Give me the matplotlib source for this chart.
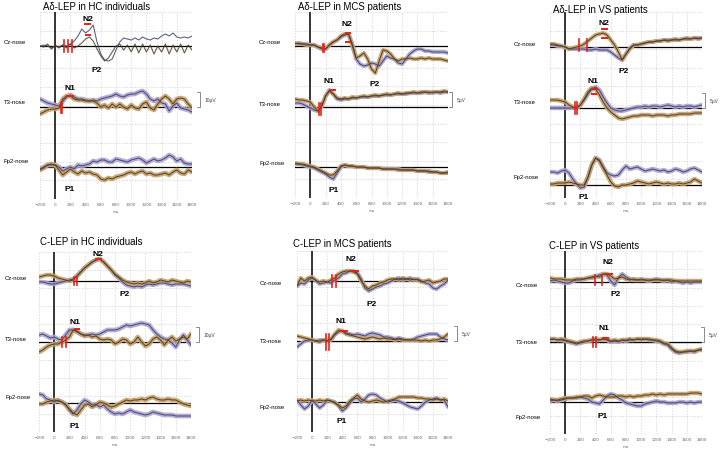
import matplotlib
matplotlib.use("Agg")
import matplotlib.pyplot as plt
import numpy as np

# Figure size in pixels (dpi 100)
W, H = 727, 452

# Sample times (ms) of every trace
TIME_MS = list(range(-200, 1801, 50))

# ---------------------------------------------------------------------
#  Traces: amplitude above the channel baseline,
#  one value every 50 ms from -200 to 1800 ms (scale bar = 15 units).
#  "blue" = lavender trace, "brown" = tan trace.
# ---------------------------------------------------------------------
# A-delta LEP, HC individuals
AD_HC_CZ_BLUE = [0, 1, 0, -2, 0, -1, 1, 0, 2, 5, 10,
                 17, 13, 16, 21, 4, -8, -14, -15, -13, -4,
                 4, 8, 7, 6, 8, 6, 9, 7, 6, 8,
                 7, 10, 12, 10, 13, 9, 8, 9, 8, 10]
AD_HC_CZ_BROWN = [0, -1, 2, -3, 1, -2, 1, -2, 2, -2, 0,
                  3, 7, 9, 5, -3, -10, -15, -12, -6, 0,
                  2, -4, 1, -6, 2, -7, 2, -6, 1, -8,
                  0, -6, 2, -8, 1, -6, 2, -7, 1, -4]
AD_HC_T3_BLUE = [8, 6, 4, 3, 2, 1, 6, 10, 12, 10, 8,
                 8, 7, 6, 7, 6, 8, 9, 10, 11, 13,
                 11, 10, 12, 13, 13, 15, 16, 13, 8, 6,
                 8, 4, 3, -4, 1, 4, -1, -2, -3, -5]
AD_HC_T3_BROWN = [-7, -5, -3, -2, -2, -1, 8, 11, 11, 8, 7,
                  7, 6, 6, 6, 4, 0, 2, -1, 3, 0,
                  3, 0, -2, 2, -1, -2, 3, 5, -1, -3,
                  3, 8, 11, 8, 3, 8, 9, 8, 3, -1]
AD_HC_FP2_BLUE = [-2, 0, 2, 2, 2, 0, -4, -2, 0, -2, 2,
                  1, 2, 3, 6, 5, 7, 7, 5, 5, 8,
                  7, 6, 5, 7, 8, 9, 7, 4, 6, 8,
                  6, 7, 9, 12, 10, 6, 8, 4, 3, 3]
AD_HC_FP2_BROWN = [-3, -1, 2, 3, 2, -3, -8, -5, -2, -5, -7,
                   -4, -6, -5, -7, -8, -12, -13, -11, -12, -10,
                   -9, -8, -6, -5, -7, -5, -4, -7, -6, -8,
                   -8, -7, -6, -8, -5, -3, -6, -7, -3, -5]

# A-delta LEP, MCS patients
AD_MCS_CZ_BLUE = [2, 3, 2, 2, 1, 1, -1, -3, -3, 1, 4,
                  6, 9, 11, 12, 2, -13, -18, -20, -19, -17,
                  -18, -20, -15, -10, -12, -13, -17, -18, -13, -8,
                  -5, -3, -3, -5, -5, -6, -6, -6, -6, -7]
AD_MCS_CZ_BROWN = [3, 2, 2, 1, 1, 1, -1, -2, -3, 1, 4,
                   6, 10, 12, 12, 0, -12, -10, -7, -13, -23,
                   -27, -15, -4, -5, -8, -13, -15, -13, -13, -12,
                   -13, -13, -12, -13, -12, -13, -13, -13, -14, -15]
AD_MCS_T3_BLUE = [4, 4, 3, 1, -1, -3, -4, 1, 11, 17, 13,
                  8, 7, 8, 8, 9, 9, 10, 10, 10, 11,
                  11, 11, 12, 12, 12, 13, 13, 13, 13, 14,
                  14, 14, 14, 15, 15, 14, 15, 14, 15, 15]
AD_MCS_T3_BROWN = [8, 7, 7, 6, 5, 0, -4, 1, 11, 16, 13,
                   9, 8, 9, 8, 10, 9, 10, 11, 10, 11,
                   12, 11, 12, 13, 12, 13, 14, 13, 14, 14,
                   15, 14, 15, 15, 14, 15, 15, 15, 16, 15]
AD_MCS_FP2_BLUE = [3, 3, 2, 1, 0, -1, -3, -5, -7, -10, -12,
                   -6, 0, 2, 1, 1, 0, 0, 0, -1, -1,
                   -1, -1, -2, -2, -2, -2, -2, -3, -3, -3,
                   -3, -4, -4, -4, -4, -5, -5, -6, -6, -5]
AD_MCS_FP2_BROWN = [4, 3, 3, 2, 1, 0, -2, -4, -6, -8, -8,
                    -4, 1, 2, 1, 1, 0, 0, 0, -1, -1,
                    -1, -1, -2, -2, -2, -2, -3, -3, -3, -3,
                    -3, -4, -4, -4, -5, -5, -5, -6, -6, -6]

# A-delta LEP, VS patients
AD_VS_CZ_BLUE = [2, 2, 1, 1, 0, -2, -2, -2, -2, -2, -3,
                 -3, -2, -3, -3, -3, -5, -8, -11, -13, -7,
                 -1, 2, 2, 3, 4, 5, 5, 6, 6, 7,
                 7, 7, 8, 7, 8, 9, 8, 9, 9, 9]
AD_VS_CZ_BROWN = [3, 3, 2, 1, 0, -2, -1, 0, 1, 3, 6,
                  9, 12, 13, 14, 12, 7, 2, -5, -13, -7,
                  -2, 2, 2, 3, 4, 5, 5, 6, 6, 7,
                  6, 7, 7, 7, 8, 8, 8, 9, 8, 9]
AD_VS_T3_BLUE = [0, 0, 0, 0, 0, 0, 0, 0, 3, 8, 14,
                 19, 21, 18, 11, 5, 0, -2, -3, -3, -2,
                 -1, 0, 1, 1, 2, 1, 2, 2, 1, 2,
                 3, 2, 1, 2, 1, 2, 2, 1, 2, 3]
AD_VS_T3_BROWN = [8, 8, 8, 7, 6, 3, 1, 0, 3, 9, 16,
                  20, 19, 13, 6, 0, -4, -7, -10, -11, -10,
                  -9, -8, -8, -7, -7, -7, -8, -7, -7, -7,
                  -8, -7, -7, -6, -6, -6, -6, -5, -5, -5]
AD_VS_FP2_BLUE = [13, 13, 12, 14, 15, 12, 6, 1, -3, -2, 8,
                  20, 27, 25, 18, 12, 10, 9, 10, 15, 19,
                  16, 17, 18, 16, 14, 15, 16, 15, 14, 15,
                  13, 14, 16, 15, 13, 14, 16, 17, 15, 13]
AD_VS_FP2_BROWN = [1, 1, 2, 2, 2, 3, 2, 1, 0, 0, 8,
                   20, 27, 24, 17, 10, 3, -1, -2, 0, 0,
                   1, 2, 4, 3, 2, 1, 2, 3, 2, 1,
                   2, 1, 1, 2, 1, 2, 3, 6, 4, 2]

# C LEP, HC individuals
C_HC_CZ_BLUE = [-1, -1, -2, -3, -3, -2, -1, 0, 1, 2, 5,
                9, 13, 16, 19, 21, 22, 19, 15, 11, 6,
                3, -1, -4, -5, -6, -5, -6, -4, -3, -4,
                -3, -2, -2, -3, -4, -3, -3, -3, -4, -5]
C_HC_CZ_BROWN = [4, 5, 6, 6, 5, 3, 2, 1, 0, 1, 5,
                 9, 13, 16, 19, 21, 22, 19, 15, 11, 7,
                 4, 1, -1, -2, -3, -2, -3, -2, 0, -2,
                 -1, 1, 0, -1, 1, 0, -1, -2, 0, -1]
C_HC_T3_BLUE = [7, 8, 6, 4, 5, 3, 2, 7, 12, 12, 10,
                8, 7, 7, 8, 7, 8, 10, 12, 12, 12,
                13, 15, 17, 16, 17, 18, 19, 18, 17, 12,
                8, 5, 3, 2, -1, -5, 2, 7, 2, -3]
C_HC_T3_BROWN = [-10, -8, -5, -3, -2, -2, 0, 2, 5, 12, 11,
                 8, 6, 7, 5, 6, 3, 2, 3, 2, -2,
                 0, 3, 2, -2, 0, 5, 0, -4, -2, 3,
                 5, 2, -3, 2, 5, 1, 3, 5, 3, 8]
C_HC_FP2_BLUE = [9, 8, 4, 3, 1, 3, 1, -1, -7, -11, -7,
                 -1, 3, 1, -2, -1, -4, -2, -6, -9, -11,
                 -10, -11, -9, -7, -9, -10, -11, -12, -11, -9,
                 -10, -11, -12, -12, -12, -13, -13, -13, -13, -13]
C_HC_FP2_BROWN = [-1, -1, 1, 2, 3, 2, 1, -2, -6, -10, -12,
                  -7, -2, -1, -4, -2, 1, 0, -2, -4, -3,
                  -1, 1, 3, 2, 3, 3, 4, 3, 5, 6,
                  4, 3, 3, 4, 3, 3, 1, -1, -2, -3]

# C LEP, MCS patients
C_MCS_CZ_BLUE = [-5, -2, -3, 1, 3, 1, -3, -2, -1, -2, 1,
                 3, 7, 8, 10, 10, 8, 2, -7, -10, -8,
                 -6, -5, -3, -2, 0, 2, 3, 1, 2, 3,
                 1, 2, 0, -2, -3, -7, -8, -5, -3, 1]
C_MCS_CZ_BROWN = [-5, 3, 0, 3, 4, 0, -1, 0, -1, 1, 3,
                  7, 9, 10, 10, 9, 7, 0, -5, -8, -5,
                  -4, -2, -1, 1, 2, 2, 1, 3, 2, 1,
                  2, 1, -1, 0, 1, -2, -1, 0, 2, 2]
C_MCS_T3_BLUE = [-6, -3, 0, 1, 1, 0, 1, 1, 0, 1, 6,
                 9, 10, 8, 7, 6, 7, 6, 5, 7, 8,
                 7, 6, 4, 4, 3, 2, 3, 2, 1, 1,
                 2, 4, 5, 6, 7, 7, 7, 4, 2, 1]
C_MCS_T3_BROWN = [5, 4, 3, 2, 1, 0, -1, 1, 0, 2, 7,
                  11, 10, 7, 6, 5, 4, 3, 2, 3, 4,
                  3, 2, 3, 2, 2, 1, 2, 1, 1, 1,
                  1, 1, 0, 1, 0, 1, 1, 2, 4, 7]
C_MCS_FP2_BLUE = [2, -3, -7, -4, 2, -2, -6, -3, 2, 1, 0,
                  -4, -9, -6, -1, 3, 4, 0, 3, 7, 8,
                  7, 4, 2, 0, 1, 2, 1, -1, -3, -5,
                  -6, -7, -4, 0, 2, 3, 4, 2, 2, -5]
C_MCS_FP2_BROWN = [1, 2, 1, 2, 1, 1, 2, 1, 2, 1, -1,
                   -3, -6, -4, 1, 4, 7, 3, 1, 0, 1,
                   2, 1, 0, 1, 2, 3, 5, 5, 5, 5,
                   5, 4, 4, 3, 3, 2, 3, 2, 3, 1]

# C LEP, VS patients
C_VS_CZ_BLUE = [1, 2, 1, 0, -1, -1, 1, 2, 2, 3, 4,
                4, 5, 7, 8, 7, 1, -3, 4, 8, 5,
                3, 2, 2, 3, 2, 1, 2, 3, 2, 1,
                2, 0, 1, 0, -1, 0, -1, 0, 0, 0]
C_VS_CZ_BROWN = [4, 3, 3, 3, 2, 2, 2, 3, 3, 3, 4,
                 5, 6, 5, 8, 8, 6, 3, 4, 5, 3,
                 2, 3, 2, 2, 2, 2, 2, 2, 2, 2,
                 2, 2, 1, 1, 1, 1, 1, 1, 1, 1]
C_VS_T3_BLUE = [2, 3, 2, 2, 1, 0, -1, -2, -1, 0, 1,
                2, 2, 2, 3, 2, 0, 1, 0, 2, 1,
                2, 2, 3, 2, 3, 2, 2, 1, 0, -2,
                -3, -7, -10, -11, -10, -10, -9, -10, -8, -8]
C_VS_T3_BROWN = [3, 3, 2, 3, 2, 1, 0, -1, 0, 1, 1,
                 2, 3, 2, 3, 3, 1, 2, 1, 2, 2,
                 3, 2, 3, 3, 3, 3, 2, 2, 1, -1,
                 -2, -6, -9, -10, -10, -9, -9, -9, -8, -7]
C_VS_FP2_BLUE = [1, 2, 1, 2, 3, 4, 4, 4, 5, 4, 3,
                 0, -1, -2, 2, 6, 8, 7, 4, 2, -1,
                 -2, -3, -4, -4, -2, -1, 0, 1, 0, 0,
                 -1, -1, -1, 0, 0, -1, 0, -1, 0, 0]
C_VS_FP2_BROWN = [3, 2, 2, 3, 4, 4, 4, 5, 5, 6, 6,
                  4, 6, 7, 6, 5, 5, 5, 6, 6, 5,
                  6, 5, 6, 6, 7, 7, 8, 7, 8, 7,
                  8, 8, 8, 8, 8, 8, 9, 9, 9, 8]

TITLES = ["A\u03b4-LEP in HC individuals", "A\u03b4-LEP in MCS patients",
          "A\u03b4-LEP in VS patients", "C-LEP in HC individuals",
          "C-LEP in MCS patients", "C-LEP in VS patients"]
CHANNELS = ["Cz-nose", "T3-nose", "Fp2-nose"]
SCALE_UV = [10, 5, 5, 10, 5, 5]
SCALE_UNITS = 15

TRACES = [
    [(AD_HC_CZ_BLUE, AD_HC_CZ_BROWN), (AD_HC_T3_BLUE, AD_HC_T3_BROWN),
     (AD_HC_FP2_BLUE, AD_HC_FP2_BROWN)],
    [(AD_MCS_CZ_BLUE, AD_MCS_CZ_BROWN), (AD_MCS_T3_BLUE, AD_MCS_T3_BROWN),
     (AD_MCS_FP2_BLUE, AD_MCS_FP2_BROWN)],
    [(AD_VS_CZ_BLUE, AD_VS_CZ_BROWN), (AD_VS_T3_BLUE, AD_VS_T3_BROWN),
     (AD_VS_FP2_BLUE, AD_VS_FP2_BROWN)],
    [(C_HC_CZ_BLUE, C_HC_CZ_BROWN), (C_HC_T3_BLUE, C_HC_T3_BROWN),
     (C_HC_FP2_BLUE, C_HC_FP2_BROWN)],
    [(C_MCS_CZ_BLUE, C_MCS_CZ_BROWN), (C_MCS_T3_BLUE, C_MCS_T3_BROWN),
     (C_MCS_FP2_BLUE, C_MCS_FP2_BROWN)],
    [(C_VS_CZ_BLUE, C_VS_CZ_BROWN), (C_VS_T3_BLUE, C_VS_T3_BROWN),
     (C_VS_FP2_BLUE, C_VS_FP2_BROWN)],
]

# Latency markers: onset ticks (channel, ms, centre, half height)
ONSET_TICKS = [
    [(0, 116, 0, 6), (0, 168, 0, 6), (0, 221, 0, 6), (1, 70, -1, 5), (1, 95, -1, 5)],
    [(0, 160, -2, 4), (0, 175, -2, 4), (1, 113, -2, 6), (1, 135, -2, 6)],
    [(0, 181, 2, 6), (0, 281, 2, 6), (1, 124, 0, 6), (1, 150, 0, 6)],
    [(0, 258, 0, 4), (0, 302, 0, 4), (1, 108, 0, 5), (1, 152, 0, 5)],
    [(0, 268, 0, 6), (0, 312, 0, 6), (1, 188, -1, 8), (1, 224, -1, 8)],
    [(0, 391, 2, 5), (0, 478, 2, 5), (1, 369, 0, 5), (1, 404, 0, 5)],
]
# Peak bars (channel, ms start, ms end, level)
PEAK_BARS = [
    [(0, 393, 459, 22), (0, 400, 455, 11), (1, 150, 230, 11)],
    [(0, 461, 517, 13), (0, 470, 515, 4), (1, 257, 322, 17)],
    [(0, 478, 544, 18), (0, 478, 544, 9), (1, 347, 413, 19), (1, 350, 410, 14)],
    [(0, 549, 611, 22), (1, 271, 329, 13)],
    [(0, 497, 607, 10), (1, 365, 462, 10)],
    [(0, 535, 610, 8), (1, 500, 566, 4)],
]
# Component names (channel, label, ms, level)
PEAK_NAMES = [
    [(0, "N2", 426, 28), (0, "P2", 544, -23), (1, "N1", 194, 20), (2, "P1", 194, -22)],
    [(0, "N2", 483, 22), (0, "P2", 843, -38), (1, "N1", 248, 26), (2, "P1", 300, -23)],
    [(0, "N2", 513, 24), (0, "P2", 763, -24), (1, "N1", 369, 27), (2, "P1", 238, -12)],
    [(0, "N2", 580, 28), (0, "P2", 932, -13), (1, "N1", 271, 21), (2, "P1", 271, -22)],
    [(0, "N2", 520, 22), (0, "P2", 785, -23), (1, "N1", 387, 20), (2, "P1", 387, -19)],
    [(0, "N2", 566, 20), (0, "P2", 662, -12), (1, "N1", 513, 14), (2, "P1", 491, -14)],
]

# Layout in pixels: axes box (left, right, top, bottom), channel baselines
BOXES = [(40, 192, 13, 200), (295, 448, 13, 199), (550, 702, 13, 199),
         (39, 191, 253, 433), (297, 448, 252, 433), (550, 702, 252, 435)]
BASELINES = [(47, 108, 168), (47, 108, 168), (48, 109, 186),
             (282, 343, 404), (282, 342, 403), (283, 343, 403)]
TITLE_POS = [(43, 7), (298, 7), (553, 10), (40, 242), (293, 244), (549, 246)]
CHAN_LABEL_X = [4, 259, 514, 5, 260, 516]
CHAN_LABEL_Y = [(43, 103, 162), (43, 104, 163), (45, 103, 178),
                (279, 340, 398), (284, 342, 408), (286, 343, 418)]
BAR_OFFSET_PX = [8, 4, 3, 8, 9, 2]
HALO_WIDTH = [(0, 3.4, 3.4), (3.0, 3.0, 3.0), (3.0, 3.2, 3.2),
              (3.2, 3.4, 3.4), (3.0, 3.0, 3.0), (3.2, 3.2, 3.2)]

BLUE_CORE, BLUE_HALO = "#48446f", "#aaa5d3"
BROWN_CORE, BROWN_HALO = "#4f3f25", "#c6a06a"
RED = "#e2231a"
TITLE_FONT = ["Liberation Sans", "DejaVu Sans"]
TEXT_FONT = ["Liberation Sans", "DejaVu Sans"]


def draw_trace(ax, base, amps, core, halo_color, halo_w):
    y = base + np.asarray(amps, dtype=float)
    if halo_w > 0:
        ax.plot(TIME_MS, y, color=halo_color, lw=halo_w, alpha=0.9,
                solid_joinstyle="round", solid_capstyle="round", zorder=3)
        ax.plot(TIME_MS, y, color=core, lw=0.7, zorder=4)
    else:
        ax.plot(TIME_MS, y, color=core, lw=0.8, alpha=0.85, zorder=4)


fig = plt.figure(figsize=(W / 100, H / 100), dpi=100)

for p in range(6):
    x0, x1, top, bot = BOXES[p]
    ax = fig.add_axes([x0 / W, 1 - bot / H, (x1 - x0) / W, (bot - top) / H])
    ax.set_xlim(-200, 1800)
    ax.set_ylim(-bot, -top)
    for s in ax.spines.values():
        s.set_visible(False)
    ax.set_xticks(range(-200, 1801, 200))
    ax.set_yticks(np.linspace(-bot, -top, 11))
    ax.tick_params(axis="x", length=0, pad=2, labelsize=3, labelcolor="#666666")
    ax.tick_params(axis="y", length=0, labelleft=False)
    ax.grid(True, color="#cfcfcf", lw=0.5, linestyle=(0, (2, 2)))
    ax.set_axisbelow(True)
    ax.set_xlabel("ms", fontsize=3, color="#666666", labelpad=2)
    ax.axvline(0, color="black", lw=1.1, zorder=2)

    bases = [-b for b in BASELINES[p]]
    for c in range(3):
        ax.axhline(bases[c], color="black", lw=0.9, zorder=2)
        blue, brown = TRACES[p][c]
        hw = HALO_WIDTH[p][c]
        draw_trace(ax, bases[c], blue, BLUE_CORE, BLUE_HALO, hw)
        draw_trace(ax, bases[c], brown, BROWN_CORE, BROWN_HALO, hw)
        fig.text(CHAN_LABEL_X[p] / W, 1 - CHAN_LABEL_Y[p][c] / H, CHANNELS[c],
                 fontsize=4.3, va="center", ha="left", family=TEXT_FONT)

    for c, t, mid, hh in ONSET_TICKS[p]:
        ax.plot([t, t], [bases[c] + mid - hh, bases[c] + mid + hh],
                color=RED, lw=1.2, zorder=6)
    for c, t0, t1, lvl in PEAK_BARS[p]:
        ax.plot([t0, t1], [bases[c] + lvl] * 2, color=RED, lw=1.4, zorder=6)
    for c, name, t, lvl in PEAK_NAMES[p]:
        ax.text(t, bases[c] + lvl, name, fontsize=6, fontweight="bold",
                ha="center", va="center", family=TEXT_FONT, zorder=7)

    # scale bar next to T3
    ms_per_px = 2000 / (x1 - x0)
    bx = 1800 + BAR_OFFSET_PX[p] * ms_per_px
    arm = 3 * ms_per_px
    yb, yt = bases[1], bases[1] + SCALE_UNITS
    ax.plot([bx - arm, bx, bx, bx - arm], [yt, yt, yb, yb], color="#777777",
            lw=0.6, clip_on=False)
    ax.text(bx + 5 * ms_per_px, (yb + yt) / 2, f"{SCALE_UV[p]}\u00b5V",
            fontsize=3.5, va="center", ha="left", color="#444444",
            family=TEXT_FONT, clip_on=False)

    tx, ty = TITLE_POS[p]
    fig.text(tx / W, 1 - ty / H, TITLES[p], fontsize=6.9, va="center",
             ha="left", family=TITLE_FONT)

fig.savefig("out.png", dpi=100)
